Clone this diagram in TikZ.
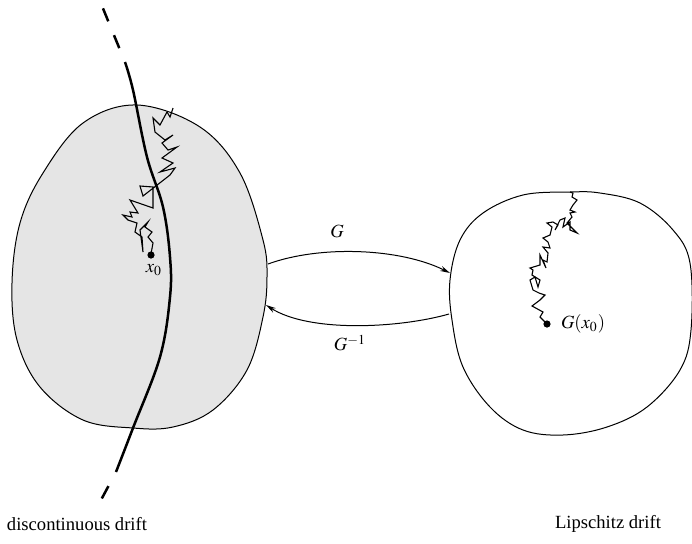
\documentclass[tikz,border=0pt]{standalone}
\usepackage{mathptmx}
\usepackage[no-math]{fontspec}
\setmainfont{Liberation Serif}
\usetikzlibrary{arrows.meta}
\tikzset{
  lbl/.style={font=\fontsize{9.3}{11}\selectfont},
  blob/.style={line width=0.5pt},
  walk/.style={line width=0.55pt},
  drift/.style={line width=1.25pt},
  dot/.style={circle, fill, inner sep=0pt, minimum size=3.6pt},
  map/.style={line width=0.5pt, -{Stealth[length=5pt,width=2.6pt]}}
}

\begin{document}
\begin{tikzpicture}[x=0.5pt,y=-0.5pt]
    \useasboundingbox (0,0) rectangle (692,543);

    \draw[blob, fill=gray!20] plot[smooth cycle, tension=0.6] coordinates {
      (137,105) (200,127) (240,173) (263,240) (267,277) (263,317) (247,370)
      (213,410) (173,427) (133,428) (83,420) (40,387) (17,340) (12,283)
      (20,223) (43,173) (83,123)};
    \draw[blob] plot[smooth cycle, tension=0.6] coordinates {
      (570,192) (523,195) (483,213) (460,240) (450,280) (452,320) (463,367)
      (490,407) (523,430) (563,435) (607,427) (647,407) (680,370) (691,330)
      (690,263) (673,230) (640,203) (600,193)};

    \draw[drift] plot[smooth, tension=0.6] coordinates {
      (125,62) (133,90) (147,157) (163,207) (170,257) (170,297) (160,357)
      (133,428) (116,472)};
    \draw[drift, dash pattern=on 7pt off 7.5pt, dash phase=7pt] (125,62) -- (102,6);
    \draw[drift, dash pattern=on 7pt off 8pt, dash phase=7pt] (116,472) -- (101,500);

    \draw[walk] (151,254) -- (153,243) -- (148,237) -- (152,232) -- (145,227) -- (148,222)
      -- (140,230) -- (143,252) -- (142,237) -- (135,232) -- (137,223) -- (128,220)
      -- (123,215) -- (132,217) -- (130,212) -- (138,213) -- (130,200) -- (153,208)
      -- (153,187) -- (140,186) -- (143,196) -- (170,175) -- (175,168) -- (160,172)
      -- (173,163) -- (162,158) -- (177,147) -- (168,150) -- (162,143) -- (173,135)
      -- (165,140) -- (155,132) -- (153,118) -- (160,125) -- (167,112) -- (170,117)
      -- (173,108);
    \draw[walk] (547,324) -- (540,317) -- (543,312) -- (532,306) -- (540,300) -- (545,295)
      -- (539,293) -- (533,290) -- (530,280) -- (535,277) -- (538,287) -- (540,280)
      -- (532,275) -- (533,270) -- (530,268) -- (540,265) -- (540,255) -- (546,268)
      -- (543,260) -- (547,262) -- (548,253) -- (543,247) -- (550,248) -- (548,242)
      -- (543,238) -- (550,235) -- (552,227) -- (547,223) -- (553,222) -- (558,225)
      -- (555,230) -- (560,220) -- (565,218) -- (563,227) -- (570,222) -- (570,230)
      -- (577,233) -- (567,223) -- (572,217) -- (570,213) -- (575,212) -- (570,210)
      -- (573,205) -- (577,200) -- (572,197) -- (573,193) -- (570,192);

    \node[dot] (x0) at (151,255) {};
    \node[lbl] (x0lbl) at (154,270) {$x_0$};
    \node[dot] (gx0) at (547,324) {};
    \node[lbl, anchor=west] (gx0lbl) at (554,324) {$G(x_0)$};

    \coordinate (gs) at (268,264);
    \coordinate (ge) at (450,273);
    \coordinate (hs) at (449,314);
    \coordinate (he) at (266,305);
    \draw[map] (gs) .. controls (320,245) and (400,248) .. (ge);
    \draw[map] (hs) .. controls (400,328) and (310,333) .. (he);
    \node[lbl] (glbl) at (337,231) {$G$};
    \node[lbl] (ginvlbl) at (350,343) {$G^{-1}$};

    \node[lbl] (ldisc) at (77,524) {discontinuous drift};
    \node[lbl] (llip) at (608,524) {Lipschitz drift};
\end{tikzpicture}
\end{document}
